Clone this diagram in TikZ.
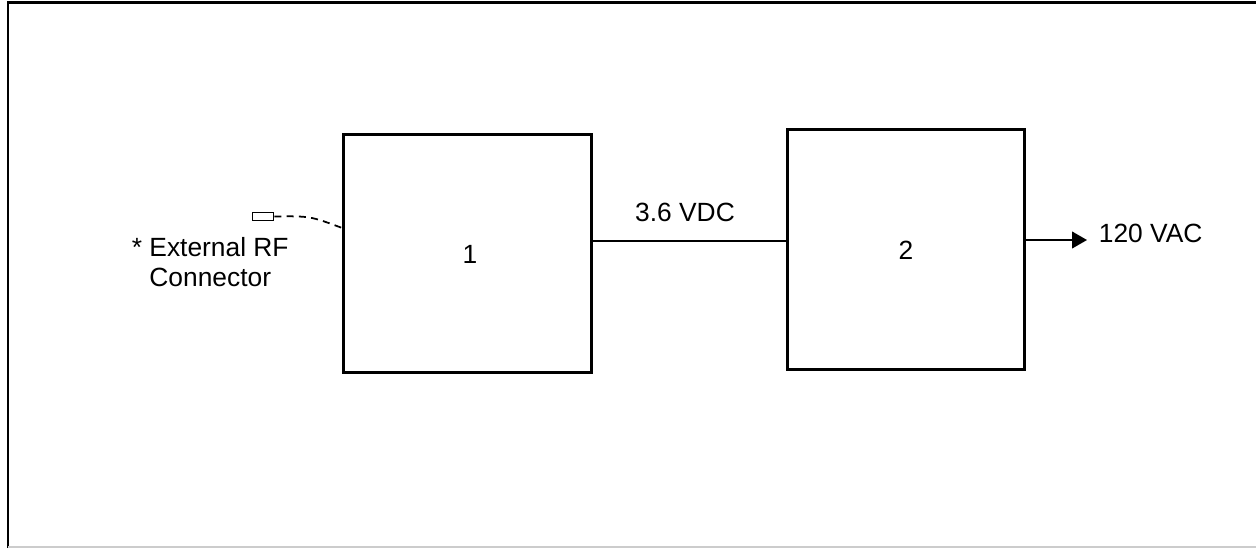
\documentclass[tikz,border=0pt]{standalone}
\usepackage{fontspec}
\setmainfont{Liberation Sans}
\usetikzlibrary{arrows.meta}

\begin{document}
\begin{tikzpicture}[x=0.02cm, y=-0.02cm, line width=1pt,
    block/.style={draw, line width=1.5pt, inner sep=0pt},
    lbl/.style={font=\fontsize{15}{17}\selectfont, inner sep=0pt}]
        \useasboundingbox (0,0) rectangle (1256,548);
        % frame
        \draw[line width=1.6pt] (8,548) -- (8,2.5) -- (1256,2.5);
        \draw[gray!40] (8,547) -- (1256,547);

        % blocks
        \node[block, minimum width=4.96cm, minimum height=4.76cm] (b1) at (467.5,253.5) {};
        \node[lbl] (n1) at (470,254) {1};
        \node[block, minimum width=4.74cm, minimum height=4.8cm] (b2) at (906,249.5) {};
        \node[lbl] (n2) at (906,250) {2};

        % RF connector
        \node[draw, line width=0.9pt, minimum width=0.42cm, minimum height=0.16cm, inner sep=0pt] (rf) at (263,216.5) {};
        \node[lbl, align=left, anchor=north west] (rftext) at (131,237) {* External RF\\\phantom{* }Connector};
        \coordinate (rfin) at (b1.west |- 0,228);
        \draw[dash pattern=on 4pt off 3pt] (rf.east) .. controls (310,216) .. (rfin);

        % 3.6 VDC link
        \draw (b1.east |- 0,241) -- (b2.west |- 0,241);
        \node[lbl] (vdc) at (685,212) {3.6 VDC};

        % output
        \coordinate (out) at (1087,240);
        \draw[-{Triangle[length=8.5pt,width=9.5pt]}] (b2.east |- out) -- (out);
        \node[lbl, anchor=west] (vac) at (1098,233) {120 VAC};
    \end{tikzpicture}
\end{document}
